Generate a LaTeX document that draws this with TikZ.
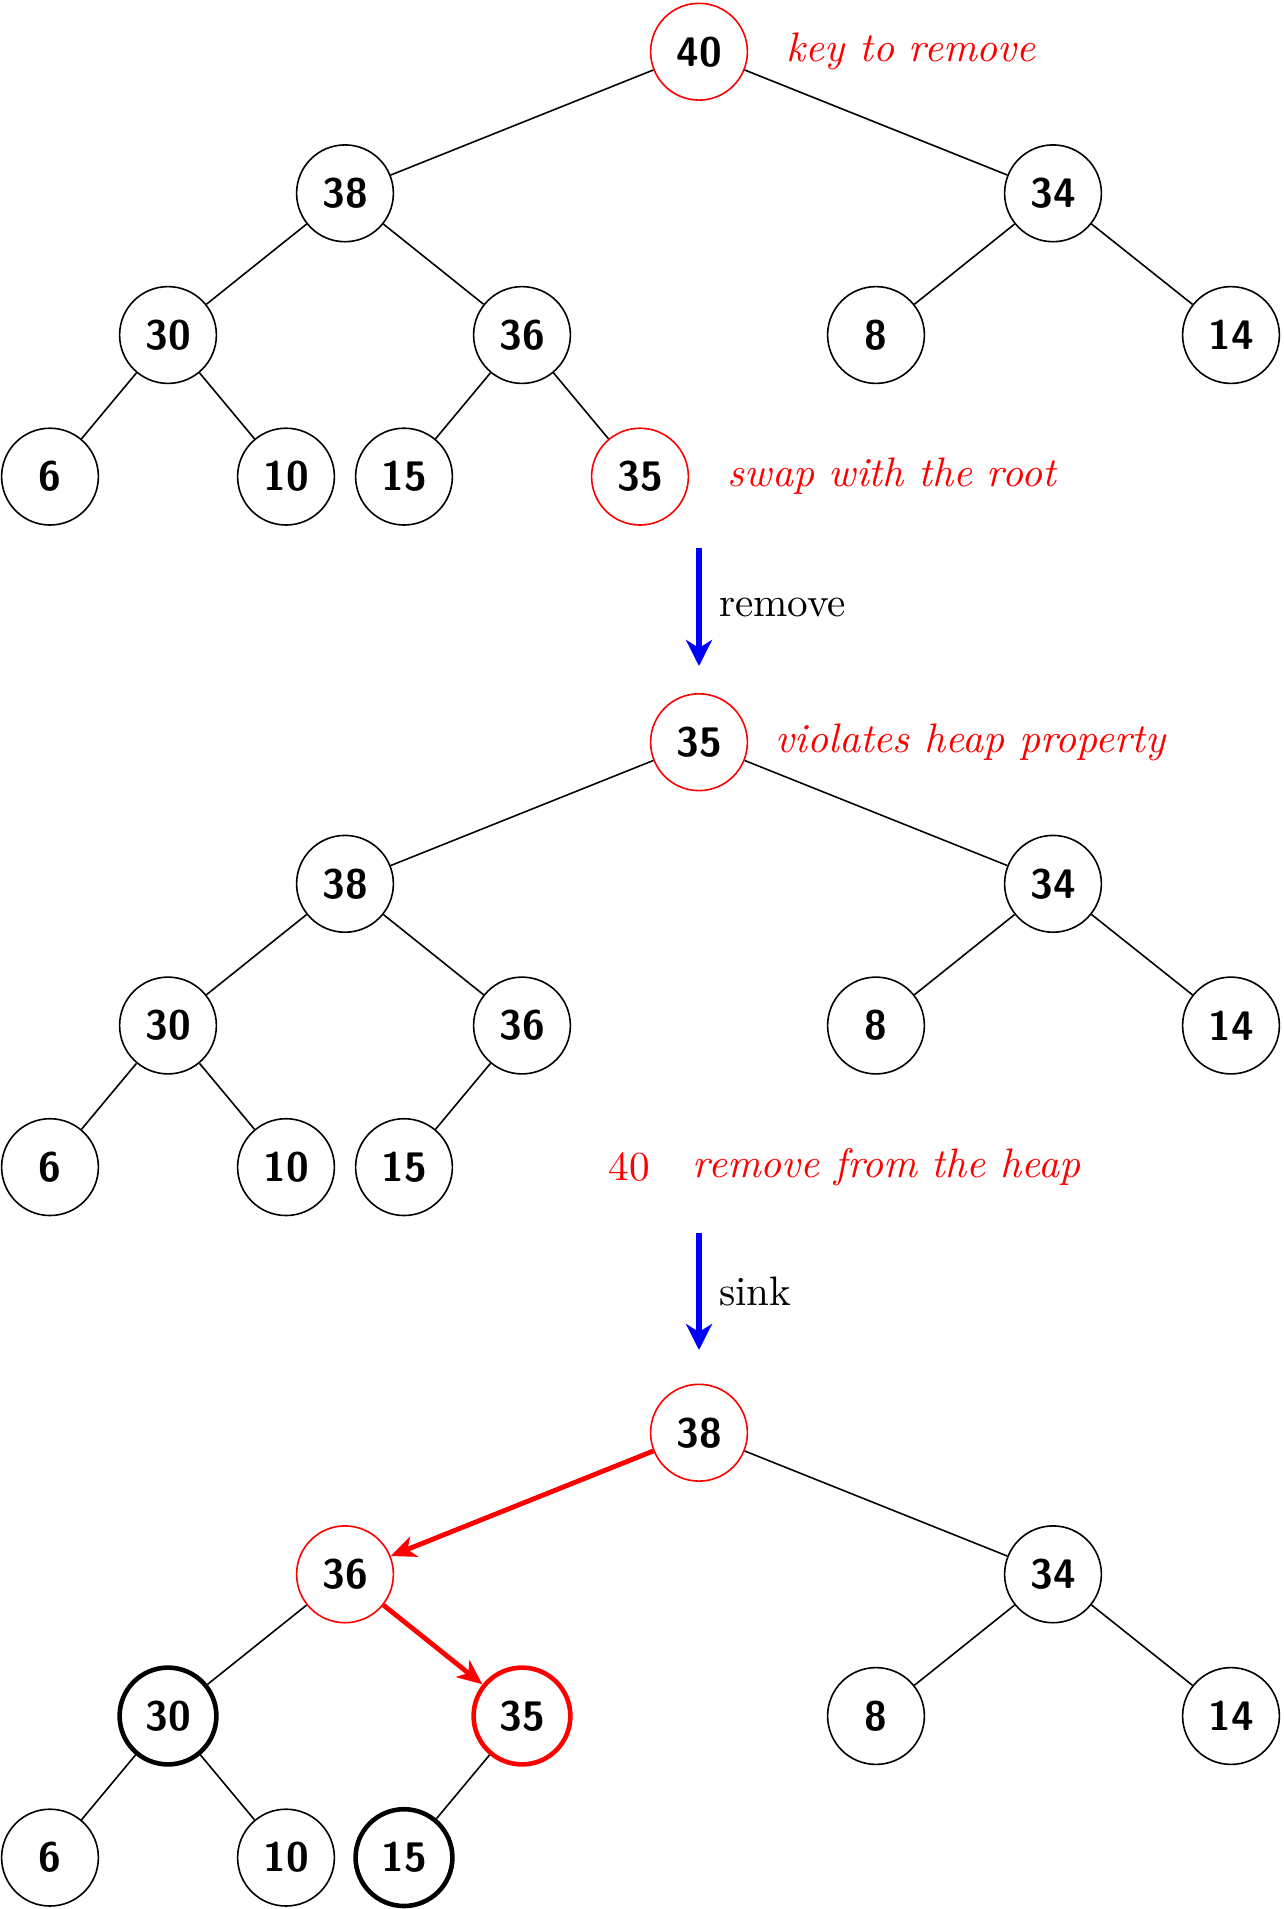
\documentclass[tikz,border=0pt]{standalone}
\usetikzlibrary{arrows.meta}
\begin{document}
\begin{tikzpicture}[x=0.25pt,y=-0.25pt,
  font=\fontsize{10.3}{12.4}\selectfont,
  hn/.style={circle, draw=black, line width=0.4pt, minimum size=24.2pt, inner sep=0pt, font=\fontsize{10.3}{12.4}\selectfont\sffamily\bfseries},
  rednode/.style={hn, draw=red},
  boldnode/.style={hn, line width=1.15pt},
  boldred/.style={hn, draw=red, line width=1.15pt},
  edge/.style={draw=black, line width=0.4pt},
  sinkedge/.style={draw=red, line width=1.2pt, -{Stealth[length=6.3pt,width=5.4pt,inset=1.8pt]}},
  steparrow/.style={draw=blue, line width=1.6pt, -{Stealth[length=6.5pt,width=6.5pt,inset=2pt]}},
  note/.style={text=red, font=\fontsize{10.3}{12.4}\selectfont\itshape, inner sep=0pt, anchor=west},
  steplabel/.style={right, text=black, xshift=0.9pt}
]
\useasboundingbox (0,0) rectangle (1284,1909);

% ---------- tree 1 ----------
\node[rednode] (a40) at (699,51.7) {40};
\node[hn] (a38) at (345,193.3) {38};
\node[hn] (a34) at (1053,193.3) {34};
\node[hn] (a30) at (168,335) {30};
\node[hn] (a36) at (522,335) {36};
\node[hn] (a8)  at (876,335) {8};
\node[hn] (a14) at (1231,335) {14};
\node[hn] (a6)  at (50,476.6) {6};
\node[hn] (a10) at (286,476.6) {10};
\node[hn] (a15) at (404,476.6) {15};
\node[rednode] (a35) at (640,476.6) {35};
\draw[edge] (a40) -- (a38);
\draw[edge] (a40) -- (a34);
\draw[edge] (a38) -- (a30);
\draw[edge] (a38) -- (a36);
\draw[edge] (a34) -- (a8);
\draw[edge] (a34) -- (a14);
\draw[edge] (a30) -- (a6);
\draw[edge] (a30) -- (a10);
\draw[edge] (a36) -- (a15);
\draw[edge] (a36) -- (a35);
\node[note] (k1) at (786,51.7) {key to remove};
\node[note] (k2) at (727,476.6) {swap with the root};

% ---------- arrow 1 ----------
\coordinate (s1) at (699,548);
\coordinate (e1) at (699,666);
\draw[steparrow] (s1) -- node[steplabel] (l1) {remove} (e1);

% ---------- tree 2 ----------
\node[rednode] (b35) at (699,742.2) {35};
\node[hn] (b38) at (345,883.8) {38};
\node[hn] (b34) at (1053,883.8) {34};
\node[hn] (b30) at (168,1025.5) {30};
\node[hn] (b36) at (522,1025.5) {36};
\node[hn] (b8)  at (876,1025.5) {8};
\node[hn] (b14) at (1231,1025.5) {14};
\node[hn] (b6)  at (50,1167.1) {6};
\node[hn] (b10) at (286,1167.1) {10};
\node[hn] (b15) at (404,1167.1) {15};
\draw[edge] (b35) -- (b38);
\draw[edge] (b35) -- (b34);
\draw[edge] (b38) -- (b30);
\draw[edge] (b38) -- (b36);
\draw[edge] (b34) -- (b8);
\draw[edge] (b34) -- (b14);
\draw[edge] (b30) -- (b6);
\draw[edge] (b30) -- (b10);
\draw[edge] (b36) -- (b15);
\node[note] (k3) at (775,742.2) {violates heap property};
\node[text=red, inner sep=0pt] (b40) at (629.5,1167.1) {40};
\node[note] (k4) at (692,1167.1) {remove from the heap};

% ---------- arrow 2 ----------
\coordinate (s2) at (699,1233);
\coordinate (e2) at (699,1350);
\draw[steparrow] (s2) -- node[steplabel] (l2) {sink} (e2);

% ---------- tree 3 ----------
\node[rednode] (c38) at (699,1432.7) {38};
\node[rednode] (c36) at (345,1574.3) {36};
\node[hn] (c34) at (1053,1574.3) {34};
\node[boldnode] (c30) at (168,1716) {30};
\node[boldred] (c35) at (522,1716) {35};
\node[hn] (c8)  at (876,1716) {8};
\node[hn] (c14) at (1231,1716) {14};
\node[hn] (c6)  at (50,1857.6) {6};
\node[hn] (c10) at (286,1857.6) {10};
\node[boldnode] (c15) at (404,1857.6) {15};
\draw[sinkedge] (c38) -- (c36);
\draw[edge] (c38) -- (c34);
\draw[edge] (c36) -- (c30);
\draw[sinkedge] (c36) -- (c35);
\draw[edge] (c34) -- (c8);
\draw[edge] (c34) -- (c14);
\draw[edge] (c30) -- (c6);
\draw[edge] (c30) -- (c10);
\draw[edge] (c35) -- (c15);
\end{tikzpicture}
\end{document}
